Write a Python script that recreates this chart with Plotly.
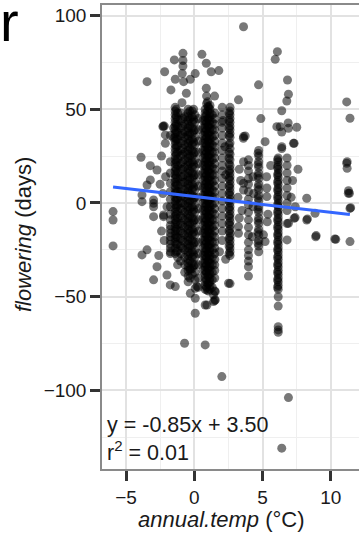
import plotly.graph_objects as go

# ---- data ----
# dense columns of observations: site temperature and flowering shifts
colA_x = -1.75
colA_y = [36, 22, 16, 10.5, 6, 2, -2, -6, -9, -12, -14, -16, -18, -20, -22, -24, -26, -27]
colB_x = -1.4
colB_y = [51, 49, 47, 45, 43, 41, 39, 37, 35, 33, 31, 29, 27, 25, 23, 21, 19, 17, 15, 13, 11, 9,
          7, 5, 3, 1, -1, -3, -5, -7, -9, -11, -13, -15, -17, -19, -21, -24, -27]
colB3_x = -1.32
colB3_y = [50, 46, 42, 38, 34, 30, 26, 22, 18, 14, 10, 6, 2, -2, -6, -10, -14, -18, -22, -26]
colB2_x = -1.22
colB2_y = [48, 44.5, 41, 37.5, 34, 30.5, 27, 23.5, 20, 16.5, 13, 9.5, 6, 2.5, -1, -4.5, -8,
           -11.5, -15, -18.5, -22, -25.5, -29, -33]
colC_x = -1.0
colC_y = [48, 44, 40, 36, 32, 28, 25, 21, 18, 14, 10, 6, 3, 0, -3, -7, -11, -15, -19, -23, -27, -31]
colC2_x = -0.85
colC2_y = [45, 41, 37, 33, 29, 26, 22, 18, 14, 11, 7, 4, 0, -4, -8, -12, -16, -20, -24]
colD2_x = -0.7
colD2_y = [46, 42, 38, 35, 31, 27, 23, 19, 15, 11, 7, 3, -1, -5, -9, -13, -17, -21, -25, -29,
           -33, -37]
colD_x = -0.45
colD_y = [50, 48, 46, 44, 42, 40, 38, 36, 34, 32, 30, 28, 26, 24, 22, 20, 18, 16, 14, 12, 10, 8,
          6, 4, 2, 0, -2, -4, -6, -8, -10, -12, -14, -16, -18, -20, -22, -24, -26, -28, -30, -32,
          -34, -36, -39, -42]
colD3_x = -0.32
colD3_y = [49, 45, 41, 37, 33, 29, 25, 21, 17, 13, 9, 5, 1, -3, -7, -11, -15, -19, -23, -27,
           -31, -35, -40]
colE_x = -0.15
colE_y = [49, 46, 43, 40, 37, 34, 31, 28, 25, 22, 19, 16, 13, 10, 7, 4, 1, -2, -5, -8, -11, -14,
          -17, -20, -23, -26, -29, -32, -35, -38]
colE3_x = -0.05
colE3_y = [50, 44.5, 38.5, 32.5, 26.5, 20.5, 14.5, 8.5, 2.5, -3.5, -9.5, -15.5, -21.5, -27.5,
           -33.5]
colE2_x = 0.05
colE2_y = [47, 43, 39, 35, 31, 27, 23, 19, 15, 11, 7, 3, -1, -5, -9, -13, -17, -21, -25, -29,
           -33, -37, -41]
colF_x = 0.3
colF_y = [45, 39, 33, 27, 21, 15, 9, 3, -3, -9, -15, -21, -27, -33, -40, -45]
colG3_x = 0.65
colG3_y = [44, 40, 36, 32, 28, 24, 20, 16, 12, 8, 4, 0, -4, -8, -12, -16, -20, -24, -28, -32, -36]
colG_x = 0.8
colG_y = [50, 48, 46, 44, 42, 40, 38, 36, 34, 32, 30, 28, 26, 24, 22, 20, 18, 16, 14, 12, 10, 8,
          6, 4, 2, 0, -2, -4, -6, -8, -10, -12, -14, -16, -18, -20, -22, -24, -26, -28, -30, -32,
          -34, -36, -38, -40, -42, -44, -46]
colG4_x = 0.9
colG4_y = [57, 53, 47, 43, 39, 35, 31, 27, 23, 19, 15, 11, 7, 3, -1, -5, -9, -13, -17, -21, -25,
           -29, -33, -37, -41, -45]
colG2_x = 0.98
colG2_y = [49, 45, 41, 37, 33, 29, 25, 21, 17, 13, 9, 5, 1, -3, -7, -11, -15, -19, -23, -27,
           -31, -35, -39, -43]
colH3_x = 1.05
colH3_y = [51, 45, 41, 37, 33, 29, 25, 21, 17, 13, 9, 5, 1, -3, -7, -11, -15, -19, -23, -27, -31,
           -35, -39, -43, -47]
colH_x = 1.15
colH_y = [52, 50, 48, 46, 44, 42, 40, 38, 36, 34, 32, 30, 28, 26, 24, 22, 20, 18, 16, 14, 12, 10,
          8, 6, 4, 2, 0, -2, -4, -6, -8, -10, -12, -14, -16, -18, -20, -22, -24, -26, -28, -30,
          -32, -34, -36, -38, -40, -42, -44, -46]
colH2_x = 1.32
colH2_y = [47, 43, 39, 35, 31, 27, 23, 19, 15, 11, 7, 3, -1, -5, -9, -13, -17, -21, -25, -29,
           -33, -37, -41, -45]
colI_x = 1.5
colI_y = [48, 45, 42, 39, 36, 33, 30, 27, 24, 21, 18, 15, 12, 9, 6, 3, 0, -3, -6, -9, -12, -15,
          -18, -21, -24, -27, -30, -33, -36, -40, -47, -52]
colJ_x = 2.05
colJ_y = [51, 47, 43, 40, 36, 32, 28, 24, 20, 17, 13, 9, 5, 1, -3, -7, -11, -15, -20]
colK2_x = 2.55
colK2_y = [48, 44, 40, 36, 31, 27, 24, 21, 17, 13, 9, 5, 1, -3, -7, -11, -15, -19, -23, -27]
colK_x = 2.62
colK_y = [51, 49, 47, 45, 43, 41, 39, 37, 35, 32, 29, 26, 23, 20, 18, 16, 14, 12, 10, 8, 6, 4,
          2, 0, -2, -4, -6, -8, -10, -12, -14, -16, -18, -20, -22, -24, -26, -28, -43]
colL_x = 3.97
colL_y = [23, 20, 17, 13, 10, 6, 2, -1, -5, -9, -13, -17, -21, -25, -28, -31, -34, -39]
colM2_x = 4.68
colM2_y = [26.5, 20.5, 14.5, 8.5, 2.5, -3.5, -9.5, -15.5, -21.5]
colM_x = 4.72
colM_y = [28, 25, 22, 19, 16, 13, 10, 7, 4, 1, -2, -5, -8, -11, -14, -17, -20, -23, -26]
colN2_x = 6.1
colN2_y = [23, 19, 15, 11, 7, 3, -1, -5, -9, -13, -17, -21, -25, -29, -33, -37, -41, -45]
colN_x = 6.15
colN_y = [24, 22, 20, 18, 16, 14, 12, 10, 8, 6, 4, 2, 0, -2, -4, -6, -8, -10, -12, -14, -16,
          -18, -20, -22, -24, -26, -28, -30, -32, -34, -36, -38, -40, -42, -44, -46, -50, -55,
          -66, -67.7, -69]
colO_x = 6.8
colO_y = [24, 20, 16, 12, 8, 4, 0, -4, -11, -19.7]

# isolated observations
scatter_x = [-3.46, -2.17, -1.71, -1.46, -0.83, -0.83, -0.83, -0.88, -1.39, -0.78, -0.29, 0.07,
             -0.58, 0.56, 0.88, 1.24, 1.8, 0.88, 1.49, -0.9, 0.98, 1.0, -2.27,
             3.61, 6.09, 5.93, 4.71, 6.83, 6.9, 6.78, 6.41, 4.88, 3.24, 11.17, 11.41, 2.1, 6.88,
             6.3, 7.51, -3.9, -3.22, -2.73, -2.19, -2.12, -2.12, 3.61, 3.73, 5.19, 6.05, 6.41,
             7.27, 6.41, 11.17, 11.2, 11.2, 11.37, 11.3, 11.46, 8.24, 7.39, 8.29, 8.85, 6.41,
             -5.95, -5.95, -5.95, -3.46, -3.83, -2.98, -2.98, -2.25, -2.0, -3.46, -3.83, -2.73,
             -2.98, -2.0, -1.76, -1.39, -0.29, 0.2, -0.29, 0.07, 0.8, 1.41, 1.41, 0.93,
             -0.71, 0.8, 2.02, 6.9, 6.41,
             8.24, 7.32, 6.9, 8.9, 10.37, 11.41, 11.41, 11.29,
             -3.22, -3.83, -2.98, -2.98, 0.07, 0.07, 0.93, 1.54, 1.54, 2.51, 3.24, 3.24, 5.07,
             5.19, 8.93, 10.3, 3.6, 3.61, 3.61, 3.61, 5.32, 5.32, 6.9, 7.32, -2.3, -1.51, -1.51,
             -2.25, 3.3, 3.4, 3.2, 3.5, 3.3, 4.3, 4.35, 4.3, 4.25, 5.3, 5.4, 5.35, 5.6, 7.2, 7.1,
             7.4, 7.6, 1.85, 2.3, 2.25, 2.3, -2.4, -2.5, -2.3, -2.1, -2.4, -2.2, -2.6]
scatter_y = [64.7, 70, 60.3, 76.3, 79.8, 76, 73, 69, 66, 64.7, 66, 69,
             58.5, 79.3, 74.5, 70, 70.6, 61.2, 57, 53.5, 54, 51.5, 41,
             94, 80.7, 76.6, 63, 65.6, 58, 54.4, 49.2, 45, 55, 53.9, 45.2, 44, 42.7,
             40.7, 40.4, 24.4, 19.9, 17.6, 41, 31.8, 36.3, 35.4, 35.7, 32.7, 40.7, 37.8,
             31.8, 30, 21.2, 18.5, 22, 5.2, 6.5, -2.5, 2.5, -7.8, -8.5, -5.5, 29,
             -4.6, -9.1, -22.9, 9.6, 0.7, -0.2, -7.3, -7.3, -2, -25, -27.7, -34,
             -41, -38.4, -43.7, -44.6, -35.7, -44.6, -48.2, -58.8, -54.4, -52.6, -49, -46.4,
             -74.8, -75.7, -92.6, -103.8, -130.8,
             -9.1, -8.2, -10.8, -18, -19.4, -20.6, -2.9, 5.2,
             12.3, 4.3, 1.6, -2, -50.8, -45.5, -54.4, -51.7, -47.3, -42.8, -12.6, -16.2, -17,
             -20.6, -17.4, -19.2, 34.5, 22, 10.5, 6.9, 8, 3.4, 39.8, 31.8, 40.7, 40, 34.7,
             -6.4, 18, 12, 3, -4, -8, 14, 5, -2, -18, 14, -6, -10, 20, 12, 3,
             -2, 18, -26, -30, 30, 15, 25, 10, 5, 14, -15, -20, -28]

slope = -0.85
intercept = 3.50
fit_x = [-5.95, 11.4]
fit_label = "y = -0.85x + 3.50"
r2_label = "r<sup>2</sup> = 0.01"

columns = [(colA_x, colA_y), (colB_x, colB_y), (colB3_x, colB3_y), (colB2_x, colB2_y),
           (colC_x, colC_y), (colC2_x, colC2_y), (colD2_x, colD2_y), (colD_x, colD_y),
           (colD3_x, colD3_y), (colE_x, colE_y), (colE3_x, colE3_y), (colE2_x, colE2_y),
           (colF_x, colF_y), (colG3_x, colG3_y), (colG_x, colG_y), (colG4_x, colG4_y),
           (colG2_x, colG2_y), (colH3_x, colH3_y), (colH_x, colH_y), (colH2_x, colH2_y),
           (colI_x, colI_y), (colJ_x, colJ_y), (colK2_x, colK2_y), (colK_x, colK_y),
           (colL_x, colL_y), (colM2_x, colM2_y), (colM_x, colM_y), (colN2_x, colN2_y),
           (colN_x, colN_y), (colO_x, colO_y)]

xs, ys = [], []
for cx, cy in columns:
    xs += [cx] * len(cy)
    ys += cy
xs += scatter_x
ys += scatter_y

fit_y = [slope * v + intercept for v in fit_x]

W, H = 359, 533
L, R, T, B = 102, 0, 5, 64
pw, ph = W - L - R, H - T - B
xr = [-6.76, 12.07]
yr = [-141.9, 105.6]

def px(xpix):
    return (xpix - L) / pw

def py(ypix):
    return (H - B - ypix) / ph

fig = go.Figure()
fig.add_trace(go.Scatter(x=xs, y=ys, mode="markers",
                         marker=dict(size=9, color="rgba(0,0,0,0.53)", line=dict(width=0)),
                         hoverinfo="skip", showlegend=False))
fig.add_trace(go.Scatter(x=fit_x, y=fit_y, mode="lines",
                         line=dict(color="#3366FF", width=3),
                         hoverinfo="skip", showlegend=False))

font = "Liberation Sans, Arial, Helvetica, sans-serif"
axis_common = dict(
    showgrid=True, gridcolor="#e2e2e2", gridwidth=1.5,
    zeroline=False, showline=True, linecolor="#8a8a8a", linewidth=1.5,
    ticks="outside", ticklen=10, tickwidth=2.5, tickcolor="#333333",
    tickfont=dict(family=font, size=19, color="#1a1a1a"),
)
fig.update_layout(
    width=W, height=H,
    margin=dict(l=L, r=R, t=T, b=B, pad=0),
    paper_bgcolor="white", plot_bgcolor="white",
    font=dict(family=font, color="#1a1a1a"),
    xaxis=dict(range=xr, tickmode="linear", tick0=0, dtick=5, mirror=True,
               minor=dict(dtick=2.5, tick0=0, showgrid=True, gridcolor="#efefef", gridwidth=1,
                          ticks=""),
               **axis_common),
    yaxis=dict(range=yr, tickmode="linear", tick0=0, dtick=50, mirror=False,
               minor=dict(dtick=25, tick0=0, showgrid=True, gridcolor="#efefef", gridwidth=1,
                          ticks=""),
               **axis_common),
    annotations=[
        dict(text="r", xref="paper", yref="paper", x=px(-2), y=py(42), xanchor="left",
             yanchor="bottom", showarrow=False, font=dict(family=font, size=56, color="black"),
             yshift=-13),
        dict(text="<i>flowering</i> (days)", xref="paper", yref="paper", x=px(23), y=py(235),
             xanchor="center", yanchor="middle", textangle=-90, showarrow=False,
             font=dict(family=font, size=22, color="#1a1a1a")),
        dict(text="<i>annual.temp</i> (°C)", xref="paper", yref="paper", x=px(221), y=py(519),
             xanchor="center", yanchor="middle", showarrow=False,
             font=dict(family=font, size=22, color="#1a1a1a")),
        dict(text=fit_label, xref="paper", yref="paper", x=px(105), y=py(425),
             xanchor="left", yanchor="middle", showarrow=False,
             font=dict(family=font, size=21.5, color="#1a1a1a")),
        dict(text=r2_label, xref="paper", yref="paper", x=px(105), y=py(451),
             xanchor="left", yanchor="middle", showarrow=False,
             font=dict(family=font, size=21.5, color="#1a1a1a")),
    ],
)
fig.write_html("out.html")
